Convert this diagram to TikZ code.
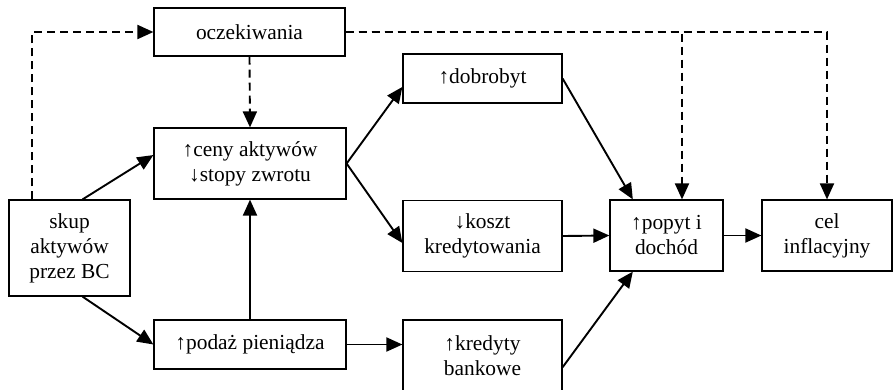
\documentclass[tikz,border=0pt]{standalone}
\usepackage{fontspec}
\setmainfont{Liberation Serif}
\usetikzlibrary{arrows.meta,calc}

\begin{document}
\begin{tikzpicture}[x=1pt, y=-1pt, box/.style={draw, rectangle, line width=1.2pt, align=center, inner sep=0pt, font=\fontsize{21.4}{25}\selectfont}, n/.style={-{Triangle[length=16pt,width=14pt]}, line width=1.9pt}, d/.style={-{Triangle[length=16pt,width=14pt]}, line width=1.9pt, dash pattern=on 8pt off 5pt}]
            \useasboundingbox (0,0) rectangle (894,389);
            \clip (0,0) rectangle (894,389);
            % nodes
            \node[box, minimum width=191pt, minimum height=48pt] (ocz) at (249.5,32) {oczekiwania};
            \node[box, minimum width=192pt, minimum height=71pt] (ceny) at (250,163.5) {↑ceny aktywów\\↓stopy zwrotu};
            \node[box, minimum width=121pt, minimum height=96pt] (skup) at (69.5,248) {skup\\aktywów\\przez BC};
            \node[box, minimum width=192pt, minimum height=49pt] (podaz) at (250,344.5) {↑podaż pieniądza};
            \node[box, minimum width=159pt, minimum height=49pt] (dobr) at (482.5,78.5) {↑dobrobyt};
            \node[box, minimum width=159pt, minimum height=71pt] (koszt) at (482.5,236) {↓koszt\\kredytowania};
            \node[box, minimum width=159pt, minimum height=72pt] (kred) at (482.5,356) {↑kredyty\\bankowe};
            \node[box, minimum width=113pt, minimum height=71pt] (popyt) at (666.5,235.5) {↑popyt i\\dochód};
            \node[box, minimum width=130pt, minimum height=71pt] (cel) at (827,235.5) {cel\\inflacyjny};
            \coordinate (pc) at ($(popyt.north)+(15.5,0)$);
            % edges
            \draw [d] ($(skup.north west)+(24,0)$) |- (ocz.west);
            \draw [d] (ocz.south) -- (ceny.north);
            \draw [d] (ocz.east) -| (cel.north);
            \draw [d] (ocz.east) -| (pc);
            \draw [n] (skup.75) -- (ceny.175);
            \draw [n] (skup.-75) -- (podaz.west);
            \draw [n] (podaz.north) -- (ceny.south);
            \draw [n] (podaz.east) -- (podaz.east -| kred.west);
            \draw [n] (ceny.east) -- (dobr.186);
            \draw [n] (ceny.east) -- (koszt.185);
            \draw [n] (dobr.east) -- (popyt.133);
            \draw [n] (koszt.east) -- (popyt.west);
            \draw [n] (kred.-8) -- (popyt.-133);
            \draw [n] (popyt.east) -- (cel.west);
        \end{tikzpicture}
\end{document}
